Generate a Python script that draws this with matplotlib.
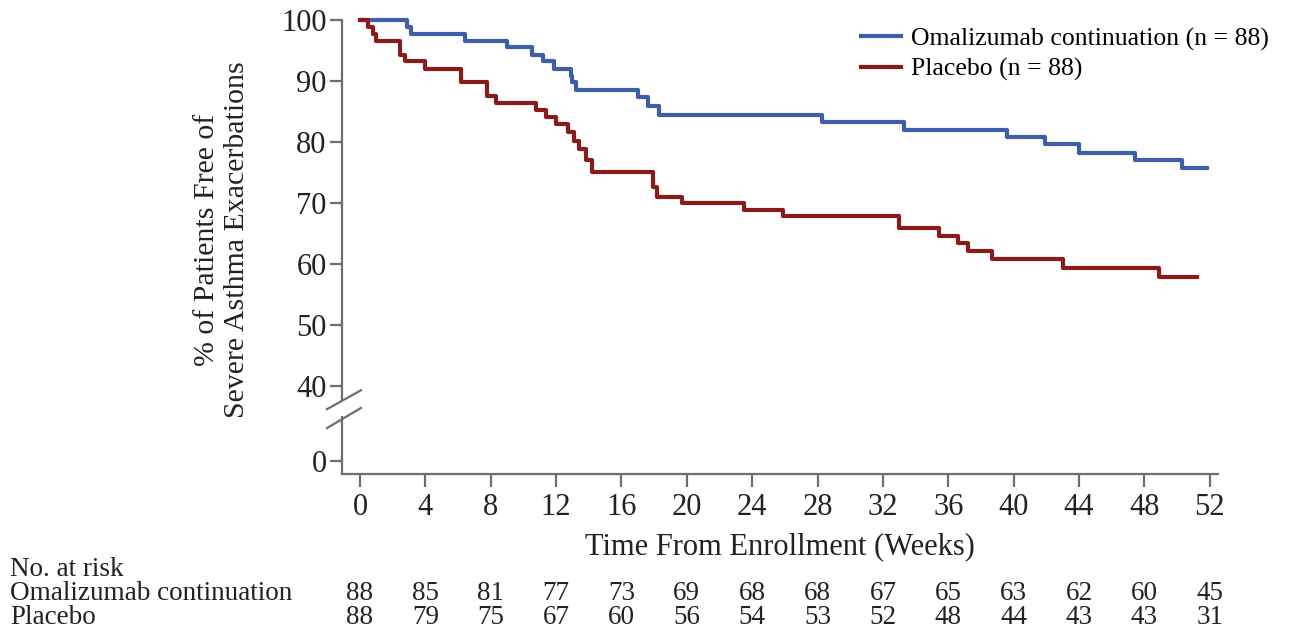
import matplotlib
matplotlib.use("Agg")
import matplotlib.pyplot as plt
import numpy as np

plt.rcParams['font.family'] = ['Liberation Serif', 'DejaVu Serif']

# Kaplan-Meier steps (weeks, % free of exacerbation)
oma_weeks = [0, 2.9, 3.1, 6.4, 9.0, 10.5, 11.2, 11.9, 12.9, 13.0, 13.2,
             17.0, 17.6, 18.3, 28.3, 33.3, 39.6, 41.9, 44.0, 47.4, 50.3]
oma_surv = [100, 98.9, 97.7, 96.6, 95.5, 94.3, 93.2, 92.0, 90.9, 89.8, 88.6,
            87.3, 85.9, 84.5, 83.3, 82.0, 80.8, 79.6, 78.2, 77.0, 75.8]
oma_end = 51.8

pbo_weeks = [0, 0.5, 0.8, 1.0, 2.45, 2.75, 4.0, 6.2, 7.8, 8.3, 10.8, 11.4,
             12.0, 12.7, 13.1, 13.4, 13.8, 14.2, 17.9, 18.2, 19.7, 23.5,
             25.9, 33.0, 35.4, 36.6, 37.2, 38.7, 43.0, 48.9]
pbo_surv = [100, 98.9, 97.7, 96.6, 94.3, 93.2, 92.0, 89.8, 87.5, 86.4, 85.2,
            84.1, 82.9, 81.6, 80.2, 78.8, 77.0, 75.0, 72.7, 71.0, 70.0, 68.9,
            67.8, 65.9, 64.6, 63.5, 62.2, 60.8, 59.3, 57.9]
pbo_end = 51.2

risk_weeks = list(range(0, 53, 4))
risk_oma = [88, 85, 81, 77, 73, 69, 68, 68, 67, 65, 63, 62, 60, 45]
risk_pbo = [88, 79, 75, 67, 60, 56, 54, 53, 52, 48, 44, 43, 43, 31]

y_ticks = [0, 40, 50, 60, 70, 80, 90, 100]

blue = '#3d5ea8'
red = '#8b1a1a'
grey = '#6e6e6e'
txt = '#222222'

# broken y axis: 0 is drawn just below 40
zero_pos = 27.7
def ymap(v):
    return v if v >= 40 else zero_pos

fig = plt.figure(figsize=(12.94, 6.31), dpi=100)
ax = fig.add_axes([342/1294, 1-474/631, (1218-342)/1294, (474-20)/631])
ax.set_xlim(-1.1, 52.5)
ax.set_ylim(25.57, 100)

ax.step(oma_weeks + [oma_end], oma_surv + [oma_surv[-1]], where='post',
        color=blue, lw=3, clip_on=False, label='Omalizumab continuation (n = 88)')
ax.step(pbo_weeks + [pbo_end], pbo_surv + [pbo_surv[-1]], where='post',
        color=red, lw=3, clip_on=False, label='Placebo (n = 88)')

for s in ['top', 'right', 'left']:
    ax.spines[s].set_visible(False)
ax.spines['bottom'].set_color(grey)
ax.spines['bottom'].set_linewidth(1.6)

# left spine with a gap and break marks
yt = ax.get_yaxis_transform()
ax.plot([0, 0], [25.57, 34.9], color=grey, lw=1.6, transform=yt, clip_on=False)
ax.plot([0, 0], [37.9, 100], color=grey, lw=1.6, transform=yt, clip_on=False)
for y0, y1 in [(36.2, 39.3), (33.1, 36.4)]:
    ax.plot([-15/876, 19/876], [y0, y1], color=grey, lw=1.6, transform=yt, clip_on=False)

ax.set_yticks([ymap(v) for v in y_ticks])
ax.set_yticklabels([str(v) for v in y_ticks])
ax.set_xticks(risk_weeks)
ax.tick_params(axis='both', colors=grey, width=1.6, length=9, labelsize=22,
               labelcolor=txt)
ax.tick_params(axis='y', pad=2)
ax.tick_params(axis='x', pad=5)

ax.set_xlabel('Time From Enrollment (Weeks)', fontsize=22, color=txt, labelpad=7)
fig.text(222/1294, 1-240/631, '% of Patients Free of\nSevere Asthma Exacerbations',
         rotation=90, ha='center', va='center', fontsize=21.5, color=txt,
         multialignment='center', linespacing=1.15)

ax.legend(loc='upper left', bbox_to_anchor=(838/1294, 1-4/631),
          bbox_transform=fig.transFigure, frameon=False, fontsize=18.5,
          handlelength=1.55, handletextpad=0.4, labelspacing=0.28)

# number at risk table
bt = matplotlib.transforms.blended_transform_factory(ax.transData, fig.transFigure)
fig.text(10/1294, 1-569/631, 'No. at risk', fontsize=19.5, va='center', color=txt)
fig.text(10/1294, 1-593/631, 'Omalizumab continuation', fontsize=19.5, va='center', color=txt)
fig.text(10/1294, 1-618/631, 'Placebo', fontsize=19.5, va='center', color=txt)
for w, a, b in zip(risk_weeks, risk_oma, risk_pbo):
    ax.text(w, 1-593/631, str(a), transform=bt, ha='center', va='center',
            fontsize=19.5, color=txt)
    ax.text(w, 1-618/631, str(b), transform=bt, ha='center', va='center',
            fontsize=19.5, color=txt)

fig.savefig('out.png', dpi=100, facecolor='white')
